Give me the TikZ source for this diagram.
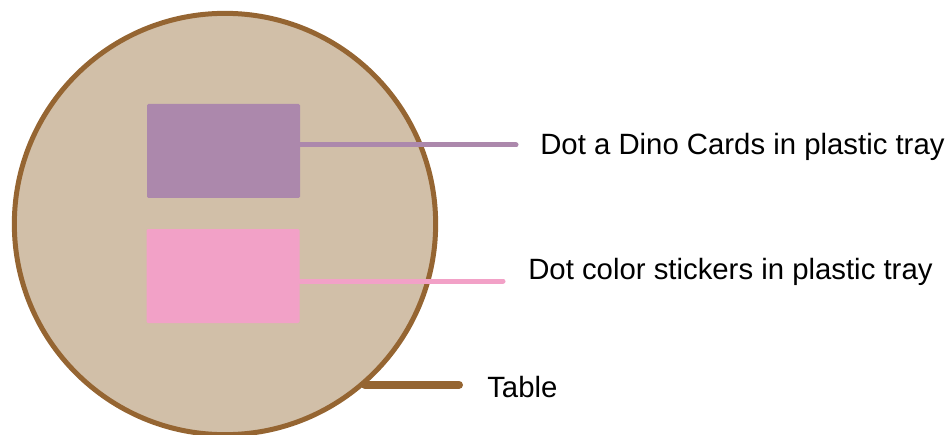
\documentclass[tikz,border=0pt]{standalone}
\usepackage{fontspec}
\setmainfont{Liberation Sans}

\definecolor{wood}{HTML}{956532}
\definecolor{tabletop}{HTML}{D1BFA8}
\definecolor{cardpurple}{HTML}{AC88AC}
\definecolor{stickerpink}{HTML}{F2A1C7}

\tikzset{
	tray/.style={rectangle, rounded corners=1pt, minimum width=114.75pt, minimum height=70.5pt, inner sep=0pt},
	lbl/.style={anchor=west, inner sep=0pt, font=\fontsize{22}{26}\selectfont}
}

\begin{document}
\begin{tikzpicture}[x=0.75pt, y=-0.75pt]
		\useasboundingbox (0, 0) rectangle (951, 435);
		\node[circle, draw=wood, line width=3.75pt, fill=tabletop, minimum size=316pt, inner sep=0pt] (tbl) at (225, 224) {};
	
		\node[tray, fill=cardpurple] (cards) at (223.5, 151) {};
		\node[tray, fill=stickerpink] (stickers) at (223, 276) {};
	
		\coordinate (cardsend) at (516, 145);
		\coordinate (stickersend) at (503, 281);
		\coordinate (tableend) at (459, 385);
	
		\draw[cardpurple, line width=3.75pt, line cap=round] (cards.east |- cardsend) -- (cardsend);
		\draw[stickerpink, line width=3.75pt, line cap=round] (stickers.east |- stickersend) -- (stickersend);
		\draw[wood, line width=6pt, line cap=round] (tbl.-49.5) -- (tbl.-49.5 -| tableend);
	
		\node[lbl] (cardstext) at (540, 147) {Dot a Dino Cards in plastic tray};
		\node[lbl] (stickerstext) at (528, 272) {Dot color stickers in plastic tray};
		\node[lbl] (tabletext) at (487, 387) {Table};
	\end{tikzpicture}
\end{document}
